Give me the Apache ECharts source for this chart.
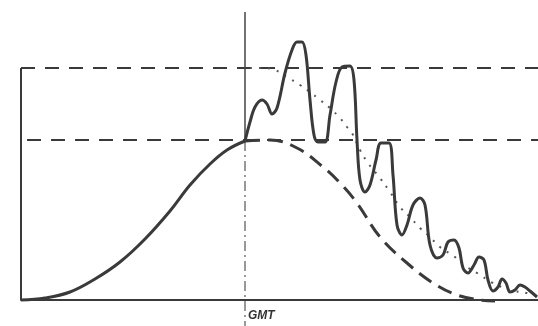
<!DOCTYPE html>
<html>
<head>
<meta charset="utf-8">
<script src="https://cdn.jsdelivr.net/npm/echarts@6/dist/echarts.min.js"></script>
<style>
  html, body { margin: 0; padding: 0; background: #fff; }
  #chart { width: 538px; height: 326px; }
</style>
</head>
<body>
<div id="chart"></div>
<script>
// x: time relative to GMT, y: level (arbitrary units)
var levelHigh = 232;
var levelMid = 160;

// rising part before GMT (solid)
var riseCurve = [[-224,0],[-200,2],[-175,8],[-150,21],[-125,38],[-100,61],[-75,89],[-55,115],[-35,136],[-18,150],[0,159]];

// decay after GMT (dashed)
var decayCurve = [[0,159],[25,160],[52,152],[78,133],[95,117],[112,97],[135,63],[162,37],[188,17],[212,5],[235,0],[250,-1]];

// oscillating response (solid)
var waveCurve = [[0,159],[5,178],[10,193],[17,200],[22,196],[27,186],[32,192],[40,227],[47,250],[52,258],[57,258],[61,245],
  [65,200],[69,165],[73,158],[80,158],[85,185],[91,218],[97,233],[105,234],[109,220],[112,160],[115,120],[120,108],[125,115],
  [131,140],[136,157],[144,157],[148,125],[152,75],[157,65],[162,75],[168,95],[175,102],[180,95],[185,55],[192,42],[198,45],
  [203,58],[209,60],[214,52],[218,32],[223,27],[229,35],[234,43],[239,40],[243,20],[248,9],[253,13],[257,21],[261,17],
  [265,8],[270,10],[275,15],[280,13],[285,9],[292,3]];

// mean trend (dotted)
var trendCurve = [[5,232],[17,232],[30,230],[42,223],[55,215],[65,208],[75,200],[85,192],[95,182],[102,173],[107,167],
  [115,150],[123,137],[135,122],[145,108],[155,93],[165,83],[175,72],[183,65],[195,53],[210,43],[222,33],[232,27],
  [248,17],[265,10],[282,7],[292,4]];

var ink = '#3a3a3a';
var myChart = echarts.init(document.getElementById('chart'));

function plain(data, style, smooth) {
    return {
        type: 'line',
        data: data,
        symbol: 'none',
        smooth: smooth || false,
        clip: false,
        silent: true,
        lineStyle: style
    };
}

var option = {
    backgroundColor: '#fff',
    animation: false,
    grid: { left: 21, right: 0, top: 0, bottom: 26, containLabel: false, outerBoundsMode: 'none' },
    xAxis: {
        type: 'value',
        min: -224,
        max: 293,
        axisLine: { lineStyle: { color: ink, width: 2 } },
        axisTick: { show: false },
        splitLine: { show: false },
        axisLabel: {
            customValues: [0],
            formatter: function () { return 'GMT'; },
            align: 'left',
            margin: 10,
            padding: [0, 0, 0, 3],
            fontStyle: 'italic',
            fontWeight: 'bold',
            fontSize: 12,
            fontFamily: 'Liberation Sans Narrow, Liberation Sans',
            color: '#333'
        }
    },
    yAxis: {
        type: 'value',
        min: 0,
        max: 300,
        show: false
    },
    series: [
        // box: left edge and the two levels
        plain([[-224, 0], [-224, levelHigh]], { color: ink, width: 2 }),
        plain([[-224, levelHigh], [293, levelHigh]], { color: ink, width: 2, type: [14, 10] }),
        plain([[-218, levelMid], [293, levelMid]], { color: ink, width: 2, type: [14, 10] }),
        // GMT marker
        plain([[0, 288], [0, 159]], { color: '#444', width: 1.5 }),
        plain([[0, 159], [0, -26]], { color: '#555', width: 1.2, type: [10, 4, 2, 4] }),
        plain(riseCurve, { color: ink, width: 3 }, 0.4),
        plain(decayCurve, { color: ink, width: 3, type: [15, 8] }, 0.4),
        plain(trendCurve, { color: '#555', width: 2, type: [2, 7] }, 0.4),
        plain(waveCurve, { color: ink, width: 3 }, 0.35)
    ]
};
myChart.setOption(option);
</script>
</body>
</html>
